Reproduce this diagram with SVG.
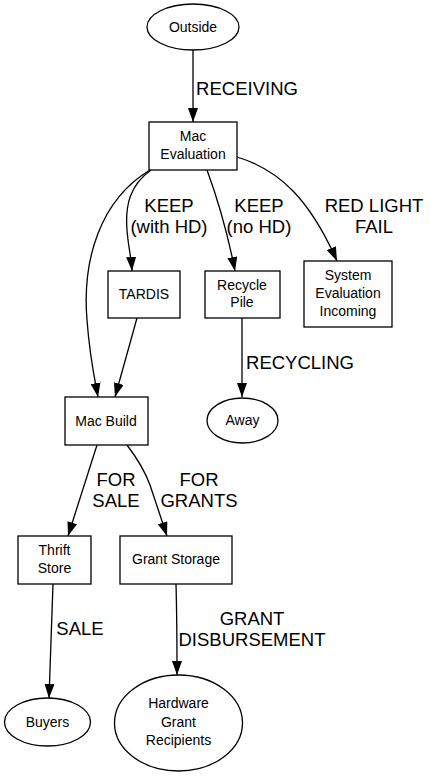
<svg xmlns="http://www.w3.org/2000/svg" width="431" height="776" viewBox="0 0 431 776">
<style>
.n{fill:#fff;stroke:#000;stroke-width:1.3}
.t{font-family:"Liberation Sans",Arial,sans-serif;font-size:14px;fill:#000;text-anchor:middle}
.l{font-family:"Liberation Sans",Arial,sans-serif;font-size:18.5px;fill:#000;text-anchor:middle}
.e{fill:none;stroke:#000;stroke-width:1.3;marker-end:url(#a)}
</style>
<defs>
<marker id="a" markerUnits="userSpaceOnUse" markerWidth="14" markerHeight="10" refX="14" refY="5" orient="auto">
<path d="M0,0 L14,5 L0,10 z" fill="#000"/>
</marker>
</defs>
<rect width="431" height="776" fill="#fff"/>
<g id="connectors">
<path class="e" d="M193,50 L193,122"/>
<path class="e" d="M150,170 C100,200 82,260 87,320 C90,360 95,380 98,397"/>
<path class="e" d="M151,170 C130,185 125,205 127,230 C128,245 131,255 132,271"/>
<path class="e" d="M207,170 C218,200 228,235 235,271"/>
<path class="e" d="M237,157 C280,170 310,200 337,261"/>
<path class="e" d="M137,318 L115,397"/>
<path class="e" d="M242,318 L242,397"/>
<path class="e" d="M97,445 L68,536"/>
<path class="e" d="M127,445 Q143,466 150,485 L167,536"/>
<path class="e" d="M53,584 L49,698"/>
<path class="e" d="M176,584 C177,620 177,650 177,675"/>
<text class="l" x="247" y="95">RECEIVING</text>
<text class="l" x="169" y="212">KEEP</text>
<text class="l" x="169" y="233">(with HD)</text>
<text class="l" x="259" y="212">KEEP</text>
<text class="l" x="259" y="233">(no HD)</text>
<text class="l" x="374" y="212">RED LIGHT</text>
<text class="l" x="374" y="233">FAIL</text>
<text class="l" x="300" y="369">RECYCLING</text>
<text class="l" x="116" y="486">FOR</text>
<text class="l" x="116" y="507">SALE</text>
<text class="l" x="199" y="486">FOR</text>
<text class="l" x="199" y="507">GRANTS</text>
<text class="l" x="80" y="635">SALE</text>
<text class="l" x="252" y="625">GRANT</text>
<text class="l" x="252" y="646">DISBURSEMENT</text>
</g>
<g id="outside"><ellipse class="n" cx="193" cy="27" rx="46" ry="23"/><text class="t" x="193" y="32">Outside</text></g>
<g id="mac-evaluation"><rect class="n" x="149" y="122" width="88" height="48"/><text class="t" x="193" y="141">Mac</text><text class="t" x="193" y="159">Evaluation</text></g>
<g id="tardis"><rect class="n" x="108" y="271" width="72" height="47"/><text class="t" x="144" y="299">TARDIS</text></g>
<g id="recycle-pile"><rect class="n" x="205" y="271" width="75" height="47"/><text class="t" x="242" y="290">Recycle</text><text class="t" x="242" y="307">Pile</text></g>
<g id="system-evaluation"><rect class="n" x="304" y="261" width="88" height="66"/><text class="t" x="348" y="280">System</text><text class="t" x="348" y="298">Evaluation</text><text class="t" x="348" y="316">Incoming</text></g>
<g id="mac-build"><rect class="n" x="65" y="397" width="83" height="48"/><text class="t" x="106" y="426">Mac Build</text></g>
<g id="away"><ellipse class="n" cx="242.5" cy="420.5" rx="35.5" ry="22.5"/><text class="t" x="242.5" y="425">Away</text></g>
<g id="thrift-store"><rect class="n" x="18" y="536" width="73" height="48"/><text class="t" x="54.5" y="555">Thrift</text><text class="t" x="54.5" y="573">Store</text></g>
<g id="grant-storage"><rect class="n" x="120" y="536" width="112" height="48"/><text class="t" x="176" y="564">Grant Storage</text></g>
<g id="buyers"><ellipse class="n" cx="47.5" cy="722" rx="43" ry="24"/><text class="t" x="47.5" y="727">Buyers</text></g>
<g id="hardware-grant-recipients"><ellipse class="n" cx="178.5" cy="723" rx="64" ry="48"/><text class="t" x="178.5" y="708">Hardware</text><text class="t" x="178.5" y="727">Grant</text><text class="t" x="178.5" y="745">Recipients</text></g>
</svg>
